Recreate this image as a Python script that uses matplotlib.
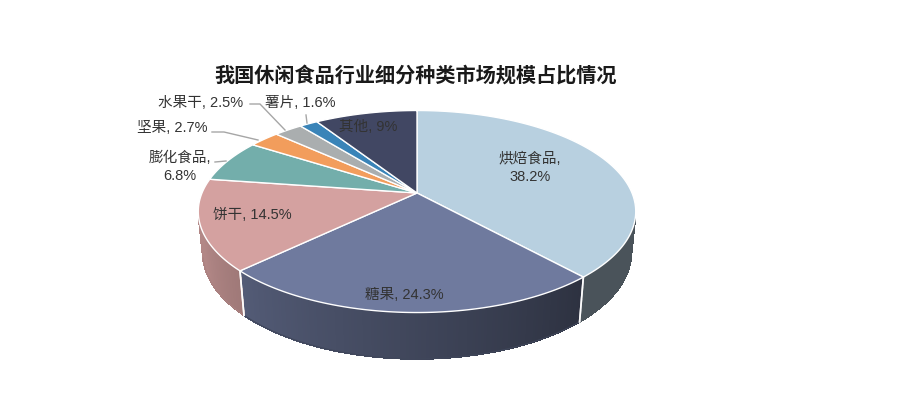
import numpy as np
import matplotlib
matplotlib.use("Agg")
from matplotlib import pyplot as plt
from matplotlib.patches import Polygon
from matplotlib.collections import PolyCollection

plt.rcParams['font.family'] = ['Noto Sans CJK SC', 'DejaVu Sans']

# data
categories = ['烘焙食品', '糖果', '饼干', '膨化食品', '坚果', '水果干', '薯片', '其他']
shares = [38.2, 24.3, 14.5, 6.8, 2.7, 2.5, 1.6, 9]
share_labels = ['38.2%', '24.3%', '14.5%', '6.8%', '2.7%', '2.5%', '1.6%', '9%']
title = '我国休闲食品行业细分种类市场规模占比情况'

colors = ['#B8D0E0', '#6F7A9E', '#D4A1A0', '#73AEAB', '#F29D5C', '#AAAEAF', '#3A84B8', '#414763']

# 3d pie camera (pixel units)
ELEV = np.radians(27.0)
DIST = 4.86
THICK = 0.215
SCALE = 1045
CX, CY = 417, 193


def project(theta, y=0.0):
    s, c = np.sin(ELEV), np.cos(ELEV)
    X = np.cos(theta)
    Z = -np.sin(theta)
    vy = y - DIST * s
    vz = Z - DIST * c
    depth = vy * (-s) + vz * (-c)
    up = vy * c + vz * (-s)
    return CX + SCALE * X / depth, CY - SCALE * up / depth


def shade(col, theta):
    # wall gets darker toward the right
    t = (np.degrees(theta) % 360 - 180) / 180.0
    f = min(0.84, max(0.40, 0.92 - 0.7 * t))
    r, g, b = matplotlib.colors.to_rgb(col)
    return (r * f, g * f, b * f)


fig = plt.figure(figsize=(9, 4), dpi=100)
ax = fig.add_axes([0, 0, 1, 1])
ax.set_xlim(0, 900)
ax.set_ylim(400, 0)
ax.axis('off')

total = sum(shares)
bounds = np.radians(90 - 360 * np.concatenate([[0], np.cumsum(shares)]) / total)

# visible part of the side wall
z0 = 1.0 / (DIST * np.cos(ELEV))
vis_lo = -np.pi + np.arcsin(z0)
vis_hi = -np.arcsin(z0)

seams = []
for i in range(len(shares)):
    t0, t1 = bounds[i], bounds[i + 1]
    for off in (0, -2 * np.pi):
        a = min(t0 + off, vis_hi)
        b = max(t1 + off, vis_lo)
        if a <= b:
            continue
        ts = np.linspace(a, b, max(3, int((a - b) * 90)))
        quads, cols = [], []
        for k in range(len(ts) - 1):
            xa, ya = project(ts[k])
            xb, yb = project(ts[k + 1])
            xc, yc = project(ts[k + 1], -THICK)
            xd, yd = project(ts[k], -THICK)
            quads.append([(xa, ya), (xb, yb), (xc, yc), (xd, yd)])
            cols.append(shade(colors[i], 0.5 * (ts[k] + ts[k + 1])))
        ax.add_collection(PolyCollection(quads, facecolors=cols, edgecolors=cols,
                                         linewidths=0.6, antialiaseds=False))
        # outline of the wall piece
        xs_b, ys_b = project(ts, -THICK)
        ax.plot(xs_b, ys_b, color=cols[len(cols) // 2], lw=0.8)
        for t in (t0 + off, t1 + off):
            if vis_lo < t < vis_hi:
                seams.append(t)

for t in seams:
    xa, ya = project(t)
    xd, yd = project(t, -THICK)
    ax.plot([xa, xd], [ya, yd], color='white', lw=1.2, alpha=0.9)

# top faces
for i in range(len(shares)):
    ts = np.linspace(bounds[i], bounds[i + 1], 200)
    xs, ys = project(ts)
    pts = [(CX, CY)] + list(zip(xs, ys))
    ax.add_patch(Polygon(pts, closed=True, fc=colors[i], ec='white', lw=1.0))

# title
ax.text(416, 75, title, ha='center', va='center', fontsize=14.5,
        fontweight='bold', color='#1A1A1A')

# data labels
lab_font = ['Liberation Sans', 'Noto Sans CJK SC']
lab_pos = [(530, 168), (404, 295), (252, 215), (180, 167),
           (172, 128), (201, 103), (300, 103), (368, 127)]
lab_text = [categories[0] + ',\n' + share_labels[0]]
lab_text += [categories[i] + ', ' + share_labels[i] for i in (1, 2)]
lab_text += [categories[3] + ',\n' + share_labels[3]]
lab_text += [categories[i] + ', ' + share_labels[i] for i in (4, 5, 6, 7)]
for (x, y), t in zip(lab_pos, lab_text):
    ax.text(x, y, t, ha='center', va='center', fontsize=10.5,
            color='#333333', linespacing=1.3, family=lab_font)

# leader lines
leaders = [
    [(215, 162), (226, 161)],
    [(212, 132), (224, 132), (258, 140)],
    [(250, 104), (260, 104), (285, 130)],
    [(306, 115), (307, 123)],
]
for ln in leaders:
    xs, ys = zip(*ln)
    ax.plot(xs, ys, color='#A6A6A6', lw=1.0)

fig.savefig('out.png', dpi=100, facecolor='white')
